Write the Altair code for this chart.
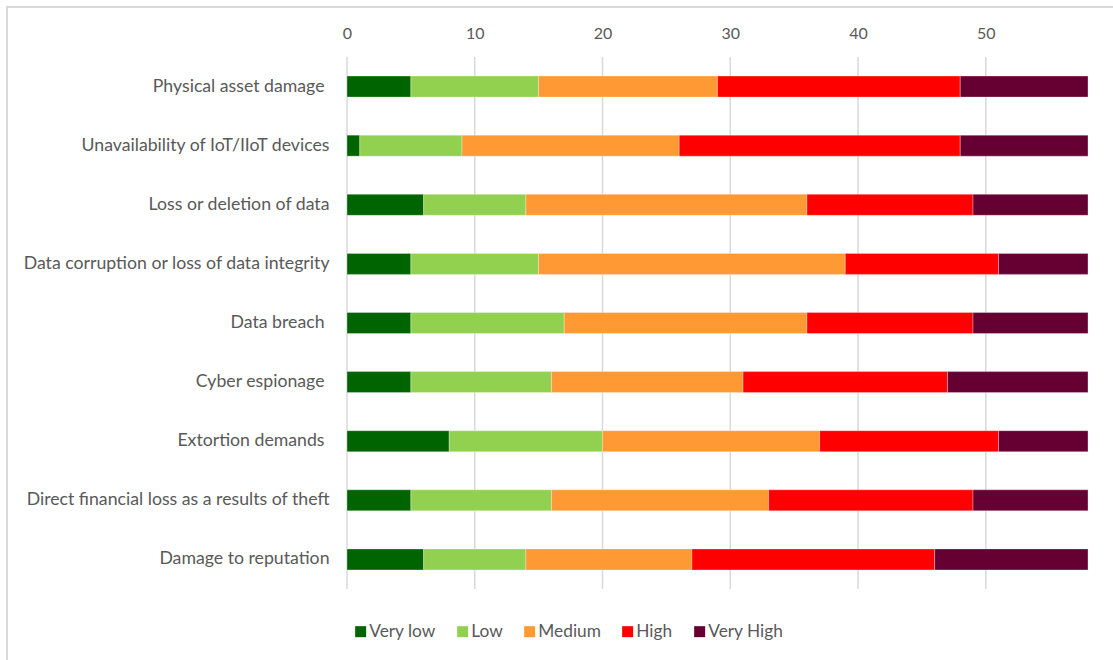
import altair as alt
import pandas as pd

# Impact categories, top to bottom
categories = [
    "Physical asset damage",
    "Unavailability of IoT/IIoT devices",
    "Loss or deletion of data",
    "Data corruption or loss of data integrity",
    "Data breach",
    "Cyber espionage",
    "Extortion demands",
    "Direct financial loss as a results of theft",
    "Damage to reputation",
]
# Names whose labels sit a little further from the bars
spaced_labels = ["Physical asset damage", "Data breach", "Cyber espionage", "Extortion demands"]

levels = ["Very low", "Low", "Medium", "High", "Very High"]
level_colors = ["#006400", "#92D050", "#FF9933", "#FF0000", "#660033"]

# Number of responses per severity level, one list per level (same order as categories)
very_low = [5, 1, 6, 5, 5, 5, 8, 5, 6]
low = [10, 8, 8, 10, 12, 11, 12, 11, 8]
medium = [14, 17, 22, 24, 19, 15, 17, 17, 13]
high = [19, 22, 13, 12, 13, 16, 14, 16, 19]
very_high = [10, 10, 9, 7, 9, 11, 7, 9, 12]

x_ticks = [0, 10, 20, 30, 40, 50]

series = [very_low, low, medium, high, very_high]
rows = []
for li, (lvl, vals) in enumerate(zip(levels, series)):
    for cat, v in zip(categories, vals):
        rows.append({"Category": cat, "Level": lvl, "Order": li, "Count": v})
df = pd.DataFrame(rows)

W, H = 741, 532
text_color = "#595959"
font = "Lato"

spaced_test = "indexof([" + ",".join("'" + s + "'" for s in spaced_labels) + "], datum.value) >= 0"

bars = alt.Chart(df).mark_bar(stroke="white", strokeWidth=0.6, strokeOpacity=0.5).encode(
    y=alt.Y(
        "Category:N",
        sort=categories,
        scale=alt.Scale(paddingInner=0.645, paddingOuter=0.3225),
        axis=alt.Axis(
            title=None, domain=False, ticks=False, grid=False,
            labelFontSize=17.7, labelColor=text_color, labelFont=font,
            labelPadding={"condition": {"test": spaced_test, "value": 23}, "value": 18},
            labelLimit=400,
        ),
    ),
    x=alt.X(
        "Count:Q",
        stack="zero",
        scale=alt.Scale(domain=[0, 58], nice=False, zero=True),
        axis=alt.Axis(
            title=None, orient="top", values=x_ticks, domain=False, ticks=False,
            grid=False, labelFontSize=16, labelColor=text_color, labelFont=font,
            labelPadding=16, labelFlush=False,
        ),
    ),
    color=alt.Color(
        "Level:N",
        sort=levels,
        scale=alt.Scale(domain=levels, range=level_colors),
        legend=alt.Legend(
            title=None, orient="none", direction="horizontal",
            legendX=5, legendY=566, symbolType="square", symbolSize=121,
            symbolStrokeWidth=0, labelFontSize=17.3, labelColor=text_color,
            labelFont=font, columnPadding=18, labelOffset=0,
        ),
    ),
    order=alt.Order("Order:Q", sort="ascending"),
)

# Vertical gridlines at the tick values
grid_df = pd.DataFrame({"Tick": x_ticks})
grid = alt.Chart(grid_df).mark_rule(color="#d9d9d9", strokeWidth=1.5).encode(
    x=alt.X("Tick:Q", scale=alt.Scale(domain=[0, 58], nice=False)),
    y=alt.value(0),
    y2=alt.value(H),
)

# Light frame around the whole chart
frame = alt.Chart(pd.DataFrame({"f": [0]})).mark_rect(
    fill=None, stroke="#d9d9d9", strokeWidth=2, clip=False
).encode(
    x=alt.value(-340), x2=alt.value(W + 60),
    y=alt.value(-50), y2=alt.value(H + 120),
)

chart = alt.layer(frame, grid, bars).resolve_scale(x="shared").properties(
    width=W, height=H,
    autosize=alt.AutoSizeParams(type="none"),
    padding={"left": 347, "top": 57, "right": 25, "bottom": 71},
    background="white",
).configure_view(stroke=None)

chart.save("out.html", embed_options={"renderer": "svg", "actions": False})
